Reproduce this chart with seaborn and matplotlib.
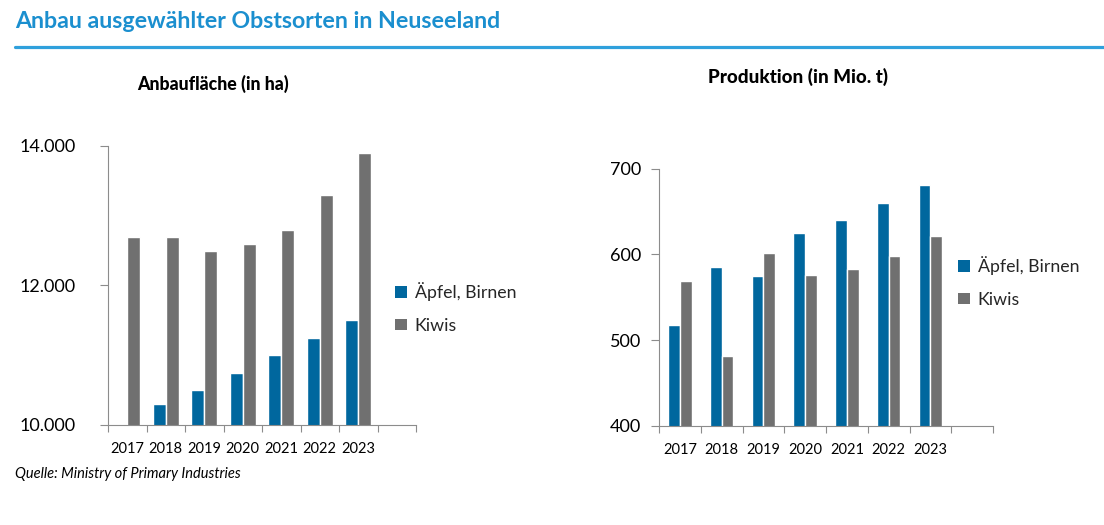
import numpy as np
import pandas as pd
import matplotlib
matplotlib.use("Agg")
import matplotlib.pyplot as plt
from matplotlib.lines import Line2D
from matplotlib.patches import Patch
import seaborn as sns

# ---- data ----
years = ["2017", "2018", "2019", "2020", "2021", "2022", "2023"]
series = ["Äpfel, Birnen", "Kiwis"]
area_apples = [np.nan, 10300, 10500, 10750, 11000, 11250, 11500]
area_kiwis = [12700, 12700, 12500, 12600, 12800, 13300, 13900]
prod_apples = [518, 585, 575, 625, 640, 660, 681]
prod_kiwis = [569, 482, 602, 576, 583, 598, 622]
area_ticks = [10000, 12000, 14000]
prod_ticks = [400, 500, 600, 700]

title = "Anbau ausgewählter Obstsorten in Neuseeland"
sub_left = "Anbaufläche (in ha)"
sub_right = "Produktion (in Mio. t)"
source = "Quelle: Ministry of Primary Industries"

BLUE = "#00679e"
GRAY = "#707070"
TITLE_BLUE = "#1b8fcf"
SPINE = "#8c8c8c"
FONT = ["Lato", "DejaVu Sans"]

sns.set_theme(style="white")
plt.rcParams["font.family"] = FONT

def long_df(a, k):
    rows = []
    for y, va, vk in zip(years, a, k):
        if not pd.isna(va):
            rows.append((y, series[0], va))
        if not pd.isna(vk):
            rows.append((y, series[1], vk))
    return pd.DataFrame(rows, columns=["Jahr", "Sorte", "Wert"])

fig = plt.figure(figsize=(11.04, 5.25), dpi=100)
W, H = 1104, 525

def px_axes(x0, x1, ytop, ybot):
    return fig.add_axes([x0 / W, (H - ybot) / H, (x1 - x0) / W, (ybot - ytop) / H])

ax1 = px_axes(108, 416, 146, 425)
ax2 = px_axes(659, 993, 168.7, 426)

order = years + [" "]

def draw(ax, a, k, ticks, ylim, width, fmt, ypad):
    df = long_df(a, k)
    sns.barplot(data=df, x="Jahr", y="Wert", hue="Sorte", order=order,
                hue_order=series, palette=[BLUE, GRAY], width=width,
                saturation=1, errorbar=None, ax=ax, legend=False)
    ax.set_xlim(-0.5, len(order) - 0.5)
    ax.set_ylim(*ylim)
    ax.set_yticks(ticks)
    ax.set_yticklabels([fmt(v) for v in ticks])
    ax.set_xticks(range(len(order)))
    ax.set_xticklabels(order)
    ax.set_xticks(np.arange(-0.5, len(order)), minor=True)
    ax.tick_params(axis="x", which="major", length=0, pad=12.5, labelsize=10.5,
                   colors="black")
    ax.tick_params(axis="x", which="minor", length=5, width=0.8, color=SPINE,
                   direction="out", bottom=True)
    ax.tick_params(axis="y", length=6, width=0.8, color=SPINE, direction="out",
                   left=True, pad=ypad, labelsize=13, labelcolor="black")
    for s in ["top", "right"]:
        ax.spines[s].set_visible(False)
    for s in ["left", "bottom"]:
        ax.spines[s].set_color(SPINE)
        ax.spines[s].set_linewidth(0.8)
    ax.set_xlabel("")
    ax.set_ylabel("")
    ax.grid(False)

draw(ax1, area_apples, area_kiwis, area_ticks, (10000, 14000), 0.68,
     lambda v: f"{v:,.0f}".replace(",", "."), 17)
draw(ax2, prod_apples, prod_kiwis, prod_ticks, (400, 700), 0.56,
     lambda v: f"{v:.0f}", 7)

handles = [Patch(facecolor=BLUE, edgecolor="none"),
           Patch(facecolor=GRAY, edgecolor="none")]

def add_legend(ax, x_px, y_px):
    fig.legend(handles, series, loc="upper left",
               bbox_to_anchor=(x_px / W, 1 - y_px / H), frameon=False,
               fontsize=12.8, handlelength=0.65, handleheight=0.65,
               handletextpad=0.45, labelspacing=0.95, borderpad=0,
               borderaxespad=0)

add_legend(ax1, 395, 282)
add_legend(ax2, 958, 256)

fig.text(15 / W, 1 - 22 / H, title, fontsize=16.7, fontweight="bold",
         color=TITLE_BLUE, ha="left", va="center")
fig.add_artist(Line2D([15 / W, 1.0], [1 - 47 / H, 1 - 47 / H],
                      color="#2fa0dc", linewidth=2.3))
fig.text(213 / W, 1 - 84 / H, sub_left, fontsize=12.8, fontweight="black",
         color="black", ha="center", va="center")
fig.text(798 / W, 1 - 77 / H, sub_right, fontsize=13.5, fontweight="black",
         color="black", ha="center", va="center")
fig.text(15 / W, 1 - 474 / H, source, fontsize=10.5, fontstyle="italic",
         color="black", ha="left", va="center")

fig.savefig("out.png", dpi=100, facecolor="white")
